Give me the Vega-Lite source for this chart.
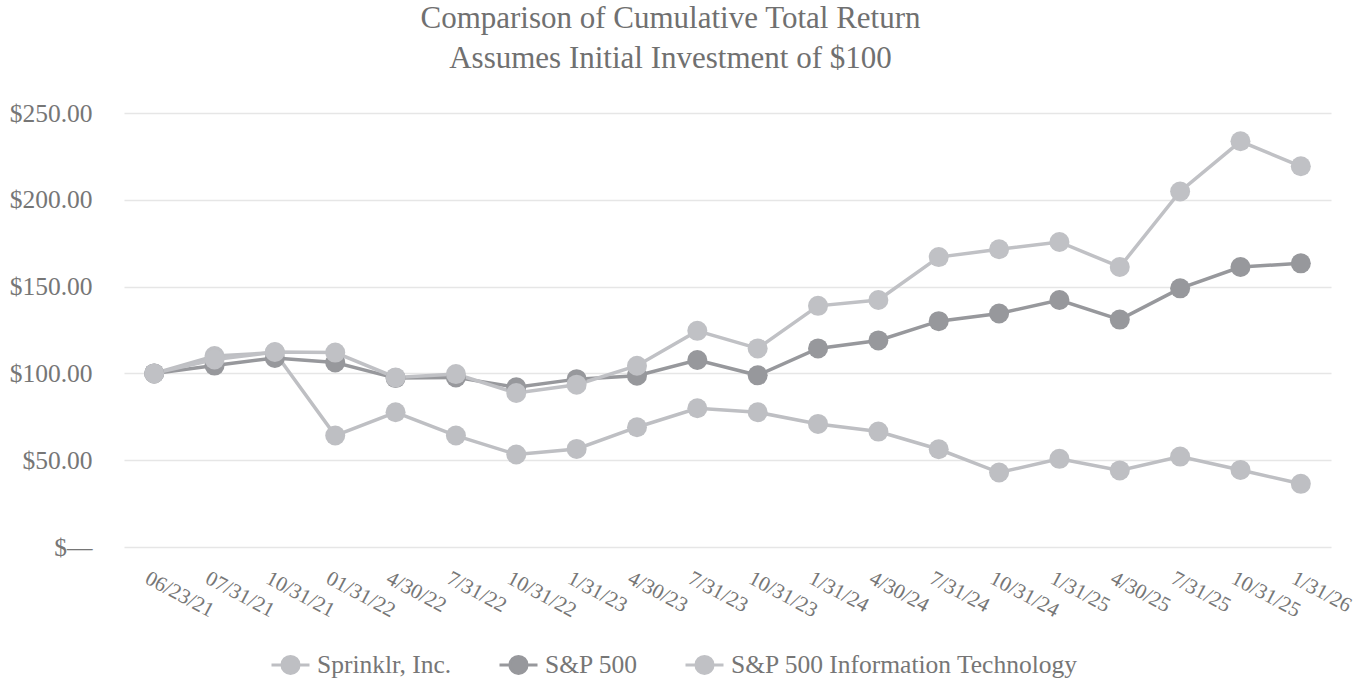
{
  "$schema": "https://vega.github.io/schema/vega-lite/v6.json",
  "width": 1207,
  "height": 434,
  "autosize": {"type": "none"},
  "padding": {"left": 124, "top": 113, "right": 41, "bottom": 133},
  "background": "white",
  "title": {
    "text": ["Comparison of Cumulative Total Return", "Assumes Initial Investment of $100"],
    "font": "Liberation Serif",
    "fontSize": 31,
    "fontWeight": "normal",
    "color": "#707070",
    "lineHeight": 40,
    "anchor": "middle",
    "dx": -57,
    "offset": 26
  },
  "config": {
    "view": {"stroke": null},
    "font": "Liberation Serif",
    "axis": {"labelFont": "Liberation Serif", "labelColor": "#767676"},
    "legend": {"labelFont": "Liberation Serif", "labelColor": "#767676"}
  },
  "data": {
    "values": [
      {"date": "06/23/21", "series": "Sprinklr, Inc.", "value": 100},
      {"date": "07/31/21", "series": "Sprinklr, Inc.", "value": 110},
      {"date": "10/31/21", "series": "Sprinklr, Inc.", "value": 112},
      {"date": "01/31/22", "series": "Sprinklr, Inc.", "value": 64.2},
      {"date": "4/30/22", "series": "Sprinklr, Inc.", "value": 77.6},
      {"date": "7/31/22", "series": "Sprinklr, Inc.", "value": 64.2},
      {"date": "10/31/22", "series": "Sprinklr, Inc.", "value": 53.3},
      {"date": "1/31/23", "series": "Sprinklr, Inc.", "value": 56.5},
      {"date": "4/30/23", "series": "Sprinklr, Inc.", "value": 69},
      {"date": "7/31/23", "series": "Sprinklr, Inc.", "value": 79.9},
      {"date": "10/31/23", "series": "Sprinklr, Inc.", "value": 77.6},
      {"date": "1/31/24", "series": "Sprinklr, Inc.", "value": 70.9},
      {"date": "4/30/24", "series": "Sprinklr, Inc.", "value": 66.5},
      {"date": "7/31/24", "series": "Sprinklr, Inc.", "value": 56.3},
      {"date": "10/31/24", "series": "Sprinklr, Inc.", "value": 42.9},
      {"date": "1/31/25", "series": "Sprinklr, Inc.", "value": 50.8},
      {"date": "4/30/25", "series": "Sprinklr, Inc.", "value": 44.1},
      {"date": "7/31/25", "series": "Sprinklr, Inc.", "value": 52.1},
      {"date": "10/31/25", "series": "Sprinklr, Inc.", "value": 44.4},
      {"date": "1/31/26", "series": "Sprinklr, Inc.", "value": 36.4},
      {"date": "06/23/21", "series": "S&P 500", "value": 100},
      {"date": "07/31/21", "series": "S&P 500", "value": 104.5},
      {"date": "10/31/21", "series": "S&P 500", "value": 108.9},
      {"date": "01/31/22", "series": "S&P 500", "value": 106.3},
      {"date": "4/30/22", "series": "S&P 500", "value": 97.3},
      {"date": "7/31/22", "series": "S&P 500", "value": 97.7},
      {"date": "10/31/22", "series": "S&P 500", "value": 92},
      {"date": "1/31/23", "series": "S&P 500", "value": 96.7},
      {"date": "4/30/23", "series": "S&P 500", "value": 98.7},
      {"date": "7/31/23", "series": "S&P 500", "value": 107.7},
      {"date": "10/31/23", "series": "S&P 500", "value": 98.9},
      {"date": "1/31/24", "series": "S&P 500", "value": 114.4},
      {"date": "4/30/24", "series": "S&P 500", "value": 119},
      {"date": "7/31/24", "series": "S&P 500", "value": 130.1},
      {"date": "10/31/24", "series": "S&P 500", "value": 134.5},
      {"date": "1/31/25", "series": "S&P 500", "value": 142.3},
      {"date": "4/30/25", "series": "S&P 500", "value": 131},
      {"date": "7/31/25", "series": "S&P 500", "value": 149},
      {"date": "10/31/25", "series": "S&P 500", "value": 161.3},
      {"date": "1/31/26", "series": "S&P 500", "value": 163.4},
      {"date": "06/23/21", "series": "S&P 500 Information Technology", "value": 100},
      {"date": "07/31/21", "series": "S&P 500 Information Technology", "value": 108},
      {"date": "10/31/21", "series": "S&P 500 Information Technology", "value": 112.3},
      {"date": "01/31/22", "series": "S&P 500 Information Technology", "value": 112},
      {"date": "4/30/22", "series": "S&P 500 Information Technology", "value": 97.7},
      {"date": "7/31/22", "series": "S&P 500 Information Technology", "value": 99.6},
      {"date": "10/31/22", "series": "S&P 500 Information Technology", "value": 88.7},
      {"date": "1/31/23", "series": "S&P 500 Information Technology", "value": 93.5},
      {"date": "4/30/23", "series": "S&P 500 Information Technology", "value": 104.4},
      {"date": "7/31/23", "series": "S&P 500 Information Technology", "value": 124.5},
      {"date": "10/31/23", "series": "S&P 500 Information Technology", "value": 114.4},
      {"date": "1/31/24", "series": "S&P 500 Information Technology", "value": 138.9},
      {"date": "4/30/24", "series": "S&P 500 Information Technology", "value": 142.3},
      {"date": "7/31/24", "series": "S&P 500 Information Technology", "value": 167},
      {"date": "10/31/24", "series": "S&P 500 Information Technology", "value": 171.5},
      {"date": "1/31/25", "series": "S&P 500 Information Technology", "value": 175.7},
      {"date": "4/30/25", "series": "S&P 500 Information Technology", "value": 161.3},
      {"date": "7/31/25", "series": "S&P 500 Information Technology", "value": 204.8},
      {"date": "10/31/25", "series": "S&P 500 Information Technology", "value": 233.7},
      {"date": "1/31/26", "series": "S&P 500 Information Technology", "value": 219.3}
    ]
  },
  "encoding": {
    "x": {
      "field": "date",
      "type": "ordinal",
      "sort": null,
      "title": null,
      "axis": {
        "domain": false,
        "ticks": false,
        "grid": false,
        "labelAngle": 28,
        "labelAlign": "left",
        "labelBaseline": "top",
        "labelPadding": 20,
        "labelOffset": -3,
        "labelFontSize": 21,
        "labelLimit": 0
      }
    },
    "y": {
      "field": "value",
      "type": "quantitative",
      "scale": {"domain": [0, 250], "nice": false, "zero": true},
      "title": null,
      "axis": {
        "values": [0, 50, 100, 150, 200, 250],
        "domain": false,
        "ticks": false,
        "grid": true,
        "gridColor": "#e6e6e6",
        "gridWidth": 1.6,
        "labelFontSize": 25.5,
        "labelPadding": 32,
        "labelExpr": "datum.value == 0 ? '$\u2014' : '$' + format(datum.value, '.2f')"
      }
    },
    "color": {
      "field": "series",
      "type": "nominal",
      "sort": ["Sprinklr, Inc.", "S&P 500", "S&P 500 Information Technology"],
      "scale": {
        "domain": ["Sprinklr, Inc.", "S&P 500", "S&P 500 Information Technology"],
        "range": ["#bebfc3", "#97989c", "#c0c1c5"]
      },
      "legend": {
        "title": null,
        "orient": "none",
        "direction": "horizontal",
        "legendX": 146,
        "legendY": 531,
        "labelFontSize": 25.5,
        "labelLimit": 0,
        "symbolType": "M-1,0H-0.45M0.45,0H1M-0.45,0A0.45,0.45,0,1,1,0.45,0A0.45,0.45,0,1,1,-0.45,0Z",
        "symbolSize": 1444,
        "symbolStrokeWidth": 3,
        "labelOffset": 6,
        "columnPadding": 41,
        "encode": {
          "symbols": {
            "update": {
              "fill": {"scale": "color", "field": "value"},
              "stroke": {"scale": "color", "field": "value"},
              "opacity": {"value": 1},
              "strokeWidth": {"value": 3}
            }
          }
        }
      }
    }
  },
  "layer": [
    {"mark": {"type": "line", "strokeWidth": 3.5}},
    {"mark": {"type": "point", "filled": true, "size": 400, "opacity": 1}}
  ]
}
